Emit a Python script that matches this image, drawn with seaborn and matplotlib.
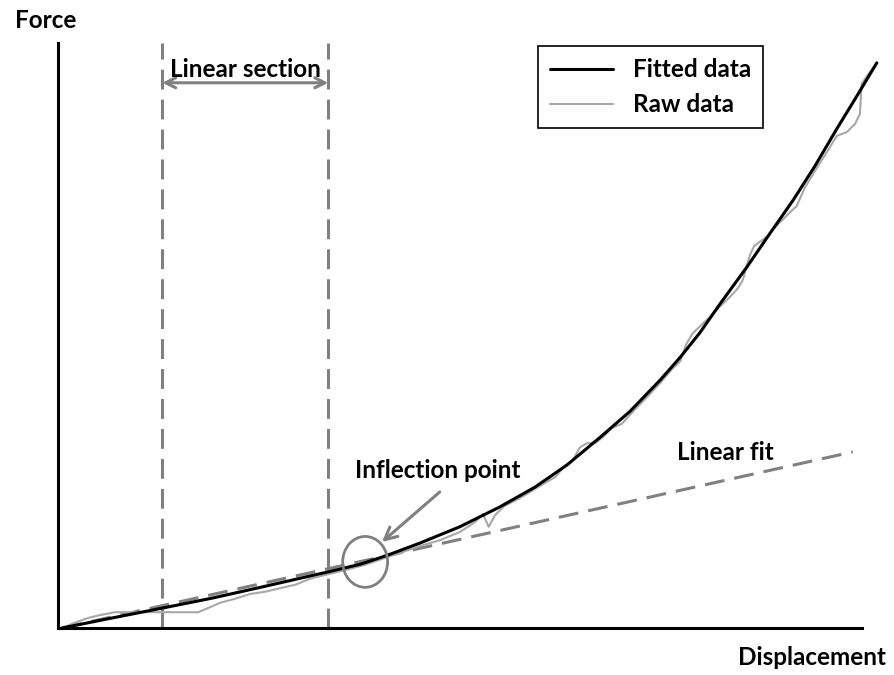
import matplotlib
matplotlib.use("Agg")
import matplotlib.pyplot as plt
from matplotlib.patches import Ellipse
import seaborn as sns
import pandas as pd

# Fitted force-displacement curve
fit_disp = [0.05, 0.67, 1.30, 1.92, 2.54, 3.37, 3.77, 4.10, 4.51, 5.01, 5.51, 5.95, 6.35,
            6.76, 7.13, 7.51, 7.76, 8.00, 8.25, 8.59, 8.88, 9.17, 9.44, 9.71, 9.96, 10.21]
fit_force = [0.0, 1.7, 3.4, 5.1, 7.0, 9.6, 10.9, 12.4, 14.5, 17.3, 20.7, 24.1, 27.9,
             32.6, 37.0, 42.4, 46.3, 50.4, 55.3, 61.7, 67.5, 73.2, 79.0, 85.3, 90.9, 96.6]

# Raw measurement
raw_disp = [0.05, 0.21, 0.37, 0.52, 0.71, 0.90, 1.15, 1.33, 1.58, 1.75, 1.87, 2.02, 2.21,
            2.39, 2.58, 2.77, 2.96, 3.14, 3.37, 3.58, 3.83, 4.08, 4.26, 4.51, 4.76, 5.01,
            5.20, 5.30, 5.37, 5.45, 5.57, 5.76, 6.01, 6.20, 6.32, 6.42, 6.51, 6.60, 6.70,
            6.80, 6.91, 7.03, 7.19, 7.36, 7.51, 7.66, 7.76, 7.83, 7.91, 8.00, 8.13, 8.25,
            8.38, 8.48, 8.54, 8.58, 8.63, 8.68, 8.78, 8.85, 8.93, 9.03, 9.13, 9.21, 9.31,
            9.46, 9.59, 9.71, 9.84, 9.94, 10.00, 10.02, 10.09, 10.21]
raw_force = [0.0, 0.9, 1.7, 2.2, 2.7, 2.7, 2.7, 2.7, 2.7, 2.7, 3.4, 4.3, 5.0,
             5.8, 6.2, 6.8, 7.4, 8.4, 9.2, 9.9, 10.8, 12.0, 12.8, 14.0, 15.0, 16.4,
             18.1, 19.5, 17.3, 19.3, 20.9, 22.2, 24.3, 25.8, 27.7, 28.7, 30.9, 31.6, 31.6,
             32.7, 34.2, 34.9, 37.3, 39.7, 41.9, 44.3, 45.6, 48.4, 50.3, 51.5, 53.2, 54.9,
             56.6, 58.1, 59.5, 61.5, 63.8, 65.3, 66.3, 67.0, 68.4, 69.7, 71.1, 72.1, 75.2,
             78.6, 81.4, 84.1, 84.8, 86.2, 87.9, 93.0, 94.4, 96.6]

# Linear fit over the initial section
lin_disp = [0.05, 9.91]
lin_force = [0.0, 30.1]

# Bounds of the linear section and the inflection point
section_bounds = [1.30, 3.37]
inflection = (3.83, 11.3)

sns.set_theme(style="white")
plt.rcParams["font.family"] = ["Lato", "DejaVu Sans"]
plt.rcParams["font.weight"] = "bold"
plt.rcParams["text.color"] = "black"

GREY = "#808080"
FS = 17.5

fig = plt.figure(figsize=(8.94, 6.75), dpi=100)
ax = fig.add_axes([58 / 894, 1 - 628 / 675, (880 - 58) / 894, (628 - 43) / 675])

fit_df = pd.DataFrame({"Displacement": fit_disp, "Force": fit_force})
raw_df = pd.DataFrame({"Displacement": raw_disp, "Force": raw_force})

sns.lineplot(data=fit_df, x="Displacement", y="Force", ax=ax, color="black",
             linewidth=2.2, label="Fitted data", sort=False, zorder=4)
sns.lineplot(data=raw_df, x="Displacement", y="Force", ax=ax, color="#a8a8a8",
             linewidth=1.5, label="Raw data", sort=False, zorder=3)

dash = (6.5, 3.3)
lin_line, = ax.plot(lin_disp, lin_force, color=GREY, linewidth=2.2, zorder=2)
lin_line.set_dashes(dash)
for xb in section_bounds:
    vl = ax.axvline(xb, color=GREY, linewidth=2.2, zorder=2)
    vl.set_dashes(dash)

ax.set_xlim(0, 10.25)
ax.set_ylim(0, 100)
ax.set_xticks([])
ax.set_yticks([])
ax.set_xlabel("")
ax.set_ylabel("")
for side in ("top", "right"):
    ax.spines[side].set_visible(False)
for side in ("left", "bottom"):
    ax.spines[side].set_color("black")
    ax.spines[side].set_linewidth(2.2)
ax.spines["bottom"].set_bounds(0, 10.02)

# Linear section span arrow
ax.annotate("", xy=(section_bounds[0], 93.2), xytext=(section_bounds[1], 93.2),
            arrowprops=dict(arrowstyle="<->", color=GREY, lw=2.2,
                            mutation_scale=18, shrinkA=0, shrinkB=0))
ax.text(sum(section_bounds) / 2, 94.2, "Linear section", ha="center",
        va="baseline", fontsize=FS, fontweight="bold", color="black")

# Inflection point marker
ax.add_patch(Ellipse(inflection, width=0.56, height=8.7, fill=False,
                     edgecolor=GREY, linewidth=2, zorder=5))
ax.annotate("", xy=(4.04, 14.7), xytext=(4.76, 23.25),
            arrowprops=dict(arrowstyle="->", color=GREY, lw=2.2,
                            mutation_scale=22, shrinkA=0, shrinkB=0))
ax.text(4.74, 25.6, "Inflection point", ha="center", va="baseline",
        fontsize=FS, fontweight="bold", color="black")
ax.text(8.32, 28.7, "Linear fit", ha="center", va="baseline",
        fontsize=FS, fontweight="bold", color="black")

# Axis titles
fig.text(46 / 894, 1 - 28 / 675, "Force", ha="center", va="baseline",
         fontsize=FS, fontweight="bold", color="black")
fig.text(812 / 894, 1 - 665 / 675, "Displacement", ha="center", va="baseline",
         fontsize=FS, fontweight="bold", color="black")

leg = ax.legend(loc="upper left", bbox_to_anchor=(538 / 894, 1 - 46 / 675),
                bbox_transform=fig.transFigure, frameon=True, fancybox=False,
                edgecolor="black", borderaxespad=0,
                handlelength=2.6, handletextpad=0.8, labelspacing=0.5,
                borderpad=0.5, prop={"weight": "bold", "size": FS})
leg.get_frame().set_linewidth(1.2)
leg.get_frame().set_alpha(1)
for t in leg.get_texts():
    t.set_color("black")

fig.savefig("out.png", dpi=100, facecolor="white")
